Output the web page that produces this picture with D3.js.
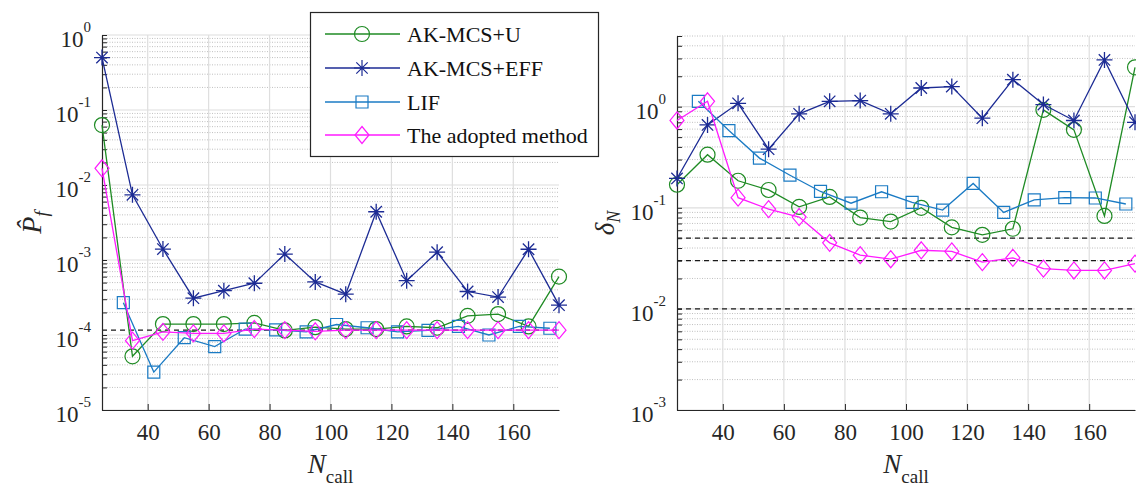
<!DOCTYPE html>
<html>
<head>
<meta charset="utf-8">
<script src="https://cdn.jsdelivr.net/npm/d3@7"></script>
<style>
  body { margin: 0; background: #fff; }
  svg { display: block; font-family: "Liberation Serif", "Times New Roman", Times, serif; }
</style>
</head>
<body>
<svg id="chart" width="1136" height="488"></svg>
<script>
// N_call values
const nCall = [25, 35, 45, 55, 65, 75, 85, 95, 105, 115, 125, 135, 145, 155, 165, 175];
const nCallLif = [32, 42, 52, 62, 72, 82, 92, 102, 112, 122, 132, 142, 152, 162, 172];
const xTicks = [40, 60, 80, 100, 120, 140, 160];

// failure probability estimates (left)
const pfU = [0.063, 5.2e-5, 1.4e-4, 1.4e-4, 1.4e-4, 1.45e-4, 1.15e-4, 1.27e-4, 1.2e-4, 1.2e-4, 1.3e-4, 1.25e-4, 1.8e-4, 1.9e-4, 1.3e-4, 6.0e-4];
const pfEff = [0.5, 0.0074, 0.0014, 3.1e-4, 3.9e-4, 4.9e-4, 1.2e-3, 5.1e-4, 3.5e-4, 4.4e-3, 5.3e-4, 1.27e-3, 3.8e-4, 3.2e-4, 1.39e-3, 2.5e-4];
const pfLif = [2.7e-4, 3.2e-5, 9.2e-5, 7.0e-5, 1.2e-4, 1.17e-4, 1.1e-4, 1.38e-4, 1.25e-4, 1.1e-4, 1.15e-4, 1.3e-4, 1.0e-4, 1.3e-4, 1.23e-4];
const pfAdopt = [0.0167, 8.4e-5, 1.1e-4, 1.05e-4, 1.05e-4, 1.2e-4, 1.16e-4, 1.12e-4, 1.16e-4, 1.16e-4, 1.16e-4, 1.16e-4, 1.16e-4, 1.16e-4, 1.16e-4, 1.16e-4];
const pfRef = [1.16e-4];

// coefficient of variation (right)
const dnU = [0.169, 0.335, 0.185, 0.15, 0.102, 0.128, 0.080, 0.073, 0.10, 0.064, 0.054, 0.062, 0.93, 0.59, 0.083, 2.45];
const dnEff = [0.195, 0.66, 1.08, 0.38, 0.85, 1.13, 1.15, 0.85, 1.53, 1.58, 0.77, 1.85, 1.05, 0.73, 2.9, 0.70];
const dnLif = [1.13, 0.58, 0.31, 0.21, 0.145, 0.111, 0.144, 0.113, 0.095, 0.174, 0.09, 0.12, 0.126, 0.125, 0.109];
const dnAdopt = [0.73, 1.13, 0.126, 0.097, 0.081, 0.045, 0.034, 0.031, 0.038, 0.037, 0.029, 0.032, 0.025, 0.024, 0.024, 0.028];
const dnRef = [0.05, 0.03, 0.01];

const seriesNames = ["AK-MCS+U", "AK-MCS+EFF", "LIF", "The adopted method"];
const colors = ["#1f8b24", "#1c2b94", "#1b7bc4", "#ff1aff"];
const markers = ["circle", "star", "square", "diamond"];

const svg = d3.select("#chart");
const FONT = "'Liberation Serif', 'Times New Roman', Times, serif";

function markerPath(type) {
  if (type === "circle") return d3.arc()({innerRadius: 0, outerRadius: 7.5, startAngle: 0, endAngle: 2 * Math.PI});
  if (type === "square") return "M-6,-6H6V6H-6Z";
  if (type === "diamond") return "M0,-8.5L7,0L0,8.5L-7,0Z";
  // asterisk: + and x, with a small centre dot
  const r = 8, d = 5.7;
  return `M${-r},0H${r}M0,${-r}V${r}M${-d},${-d}L${d},${d}M${-d},${d}L${d},${-d}M-1,-1H1V1H-1Z`;
}

function drawPanel(opt) {
  const x = d3.scaleLinear().domain([25, 175]).range([opt.left, opt.right]);
  const y = d3.scaleLog().domain(opt.yDomain).range([opt.bottom, opt.top]);
  const g = svg.append("g").attr("font-family", FONT);

  // minor + major y values
  const lo = Math.log10(opt.yDomain[0]), hi = Math.ceil(Math.log10(opt.yDomain[1]));
  const minor = [], major = [];
  for (let e = lo; e <= hi; e++) {
    for (let m = 1; m <= 9; m++) {
      const v = m * Math.pow(10, e);
      if (v > opt.yDomain[1] * 1.0001) continue;
      if (m === 1) major.push(v); else minor.push(v);
    }
  }

  // grids
  g.selectAll(".mg").data(minor).join("line")
    .attr("x1", opt.left).attr("x2", opt.right)
    .attr("y1", d => y(d)).attr("y2", d => y(d))
    .attr("stroke", "#b0b0b0").attr("stroke-width", 0.8).attr("stroke-dasharray", "1,1.5");
  g.selectAll(".Mg").data(major).join("line")
    .attr("x1", opt.left).attr("x2", opt.right)
    .attr("y1", d => y(d)).attr("y2", d => y(d))
    .attr("stroke", "#dedede").attr("stroke-width", 1.2);
  g.selectAll(".xg").data(xTicks).join("line")
    .attr("x1", d => x(d)).attr("x2", d => x(d))
    .attr("y1", opt.top).attr("y2", opt.bottom)
    .attr("stroke", "#dedede").attr("stroke-width", 1.2);

  // reference dashed lines
  g.selectAll(".ref").data(opt.refs).join("line")
    .attr("x1", opt.left).attr("x2", opt.right)
    .attr("y1", d => y(d)).attr("y2", d => y(d))
    .attr("stroke", "#1a1a1a").attr("stroke-width", 1.2).attr("stroke-dasharray", "5,4");

  // axes
  const xAxis = g.append("g").attr("transform", `translate(0,${opt.bottom})`)
    .call(d3.axisBottom(x).tickValues(xTicks).tickSizeInner(-6).tickSizeOuter(0).tickPadding(14));
  xAxis.attr("font-family", FONT);
  xAxis.select(".domain").attr("stroke", "#262626").attr("stroke-width", 1.2);
  xAxis.selectAll(".tick line").attr("stroke", "#262626");
  xAxis.selectAll("text").attr("font-size", 23).attr("fill", "#262626");

  const yAxis = g.append("g").attr("transform", `translate(${opt.left},0)`)
    .call(d3.axisLeft(y).tickValues(major.concat(minor)).tickSizeInner(-5).tickSizeOuter(0).tickFormat(""));
  yAxis.select(".domain").attr("stroke", "#262626").attr("stroke-width", 1.2);
  yAxis.selectAll(".tick line").attr("stroke", "#262626");

  const lab = g.selectAll(".ylab").data(major).join("text")
    .attr("x", opt.left - 11).attr("y", d => y(d) + 12)
    .attr("text-anchor", "end").attr("font-size", 23).attr("fill", "#262626");
  lab.append("tspan").text("10");
  lab.append("tspan").attr("dy", -15).attr("font-size", 15).text(d => String(Math.round(Math.log10(d))));

  // series
  opt.series.forEach((s, i) => {
    const pts = s.xs.map((v, k) => [x(v), y(s.ys[k])]);
    g.append("path").attr("d", d3.line()(pts))
      .attr("fill", "none").attr("stroke", colors[i]).attr("stroke-width", 1.3);
    g.selectAll(null).data(pts).join("path")
      .attr("transform", d => `translate(${d[0]},${d[1]})`)
      .attr("d", markerPath(markers[i]))
      .attr("fill", "none").attr("stroke", colors[i]).attr("stroke-width", markers[i] === "star" ? 1.3 : 1.2);
  });

  // x label
  const cx = (opt.left + opt.right) / 2;
  const xl = g.append("text").attr("x", cx).attr("y", 473).attr("text-anchor", "middle").attr("fill", "#262626");
  xl.append("tspan").attr("font-size", 27).attr("font-style", "italic").text("N");
  xl.append("tspan").attr("font-size", 19).attr("dy", 10).text("call");

  // y label
  const yl = g.append("text")
    .attr("transform", `translate(${opt.ylabX},${(opt.top + opt.bottom) / 2}) rotate(-90)`)
    .attr("text-anchor", "middle").attr("fill", "#262626");
  opt.ylab(yl);
}

drawPanel({
  left: 102, right: 559, top: 35, bottom: 410,
  yDomain: [1e-5, 1], refs: pfRef, ylabX: 41,
  series: [
    {xs: nCall, ys: pfU}, {xs: nCall, ys: pfEff},
    {xs: nCallLif, ys: pfLif}, {xs: nCall, ys: pfAdopt}
  ],
  ylab: t => {
    t.append("tspan").attr("font-size", 28).attr("font-style", "italic").text("P\u0302");
    t.append("tspan").attr("font-size", 19).attr("font-style", "italic").attr("dy", 7).text("f");
  }
});

drawPanel({
  left: 677, right: 1135, top: 36, bottom: 410,
  yDomain: [1e-3, 5], refs: dnRef, ylabX: 614,
  series: [
    {xs: nCall, ys: dnU}, {xs: nCall, ys: dnEff},
    {xs: nCallLif, ys: dnLif}, {xs: nCall, ys: dnAdopt}
  ],
  ylab: t => {
    t.append("tspan").attr("font-size", 27).attr("font-style", "italic").text("\u03b4");
    t.append("tspan").attr("font-size", 18).attr("font-style", "italic").attr("dy", 6).text("N");
  }
});

// legend
const leg = svg.append("g").attr("font-family", FONT);
leg.append("rect").attr("x", 310.5).attr("y", 12.5).attr("width", 288).attr("height", 144)
  .attr("fill", "#fff").attr("stroke", "#262626").attr("stroke-width", 1.2);
const rows = [34, 68, 102, 135];
seriesNames.forEach((name, i) => {
  const r = leg.append("g").attr("transform", `translate(0,${rows[i]})`);
  r.append("line").attr("x1", 325).attr("x2", 400).attr("stroke", colors[i]).attr("stroke-width", 1.5);
  r.append("path").attr("transform", "translate(362,0)").attr("d", markerPath(markers[i]))
    .attr("fill", "none").attr("stroke", colors[i]).attr("stroke-width", 1.2);
  r.append("text").attr("x", 407).attr("y", 8).attr("font-size", 22).attr("fill", "#111").text(name);
});
</script>
</body>
</html>
